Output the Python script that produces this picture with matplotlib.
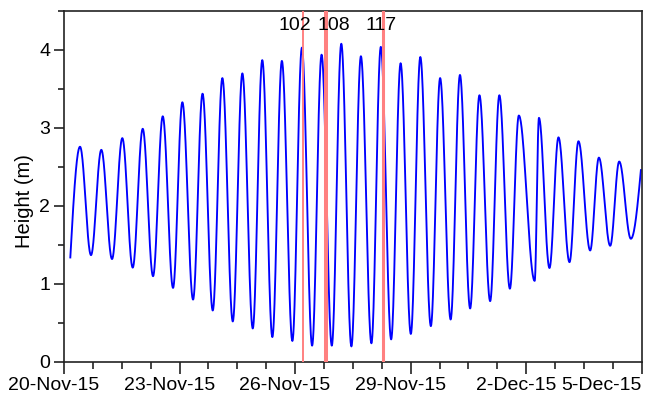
import numpy as np
import matplotlib
matplotlib.use('Agg')
import matplotlib.pyplot as plt
from matplotlib.ticker import MultipleLocator, FixedLocator
import matplotlib.transforms as mtransforms

plt.rcParams['font.family'] = ['Liberation Sans', 'DejaVu Sans']

# Tide turning points: time (days after 20-Nov-15 00:00), height (m)
tide_days = [0.164, 0.416, 0.701, 0.969, 1.247, 1.514, 1.784, 2.044, 2.312, 2.564,
             2.831, 3.073, 3.351, 3.597, 3.862, 4.112, 4.382, 4.631, 4.901, 5.148,
             5.410, 5.657, 5.930, 6.177, 6.442, 6.688, 6.953, 7.200, 7.462, 7.709,
             7.982, 8.226, 8.494, 8.740, 9.005, 9.252, 9.525, 9.766, 10.039, 10.281,
             10.545, 10.787, 11.065, 11.304, 11.577, 11.810, 12.221, 12.332, 12.605, 12.839,
             13.125, 13.358, 13.662, 13.888, 14.182, 14.416, 14.719, 14.979]
tide_heights = [1.34, 2.76, 1.37, 2.72, 1.32, 2.87, 1.21, 2.99, 1.10, 3.15,
                0.95, 3.33, 0.80, 3.44, 0.66, 3.64, 0.52, 3.70, 0.43, 3.87,
                0.32, 3.86, 0.27, 4.03, 0.21, 3.94, 0.21, 4.08, 0.20, 3.92,
                0.24, 4.04, 0.29, 3.83, 0.36, 3.91, 0.46, 3.64, 0.545, 3.68,
                0.686, 3.42, 0.78, 3.42, 0.94, 3.16, 1.04, 3.13, 1.205, 2.88,
                1.28, 2.83, 1.43, 2.62, 1.49, 2.57, 1.58, 2.46]

# Marked events (days after 20-Nov-15)
event_days = [6.200, 6.797, 8.294]
event_labels = ['102', '108', '117']
event_widths = [1.4, 2.9, 2.2]
event_label_dx = [-5.9, 5.8, -1.7]  # points

tick_days = [0, 3, 6, 9, 12, 15]
tick_labels = ['20-Nov-15', '23-Nov-15', '26-Nov-15', '29-Nov-15', '2-Dec-15', '5-Dec-15']

# Smooth curve between turning points (cosine shape between extrema)
t_parts, h_parts = [], []
n = len(tide_days)
for i in range(n - 1):
    t0, t1 = tide_days[i], tide_days[i + 1]
    h0, h1 = tide_heights[i], tide_heights[i + 1]
    s = np.linspace(0, 1, 40, endpoint=(i == n - 2))
    if i == 0:
        w = np.sin(np.pi / 2 * s)
    elif i == n - 2:
        w = 1 - np.cos(np.pi / 2 * s)
    else:
        w = (1 - np.cos(np.pi * s)) / 2
    t_parts.append(t0 + (t1 - t0) * s)
    h_parts.append(h0 + (h1 - h0) * w)
t_curve = np.concatenate(t_parts)
h_curve = np.concatenate(h_parts)

fig = plt.figure(figsize=(6.48, 3.98), dpi=100)
ax = fig.add_axes([64 / 648, 36 / 398, (641.7 - 64) / 648, (362 - 11) / 398])

ax.plot(t_curve, h_curve, color='#0000ff', lw=1.35, zorder=2)

for x, lab, lw, dx in zip(event_days, event_labels, event_widths, event_label_dx):
    ax.axvline(x, color='#ff8080', lw=lw, zorder=3)
    off = mtransforms.offset_copy(ax.get_xaxis_transform(), fig=fig, x=dx, y=0, units='points')
    ax.text(x, 0.958, lab, transform=off, ha='center', va='center', fontsize=14, color='black')

ax.set_xlim(0, 15)
ax.set_ylim(0, 4.5)

ax.xaxis.set_major_locator(FixedLocator(tick_days))
ax.xaxis.set_minor_locator(MultipleLocator(0.75))
ax.set_xticklabels(tick_labels)
ax.yaxis.set_major_locator(MultipleLocator(1))
ax.yaxis.set_minor_locator(MultipleLocator(0.5))

ax.set_ylabel('Height (m)', fontsize=14.5, va='center')
ax.yaxis.set_label_coords((25 - 64) / 577.7, (362 - 200.8) / 351)

for sp in ax.spines.values():
    sp.set_linewidth(1.2)
    sp.set_color('#222222')

ax.tick_params(axis='both', which='major', direction='out', labelsize=14, width=1.2, color='#222222')
ax.tick_params(axis='x', which='major', length=8.5, pad=2.5)
ax.tick_params(axis='x', which='minor', direction='out', length=5, width=1.2, color='#222222')
ax.tick_params(axis='y', which='major', length=7.5, pad=2.5)
ax.tick_params(axis='y', which='minor', direction='out', length=4, width=1.2, color='#222222')

labels = ax.get_xticklabels()
shift = mtransforms.ScaledTranslation(-10 / 100, 0, fig.dpi_scale_trans)
for i, lab in enumerate(labels):
    if i == len(labels) - 1:
        lab.set_horizontalalignment('right')
    else:
        lab.set_transform(lab.get_transform() + shift)

fig.savefig('out.png', dpi=100)
